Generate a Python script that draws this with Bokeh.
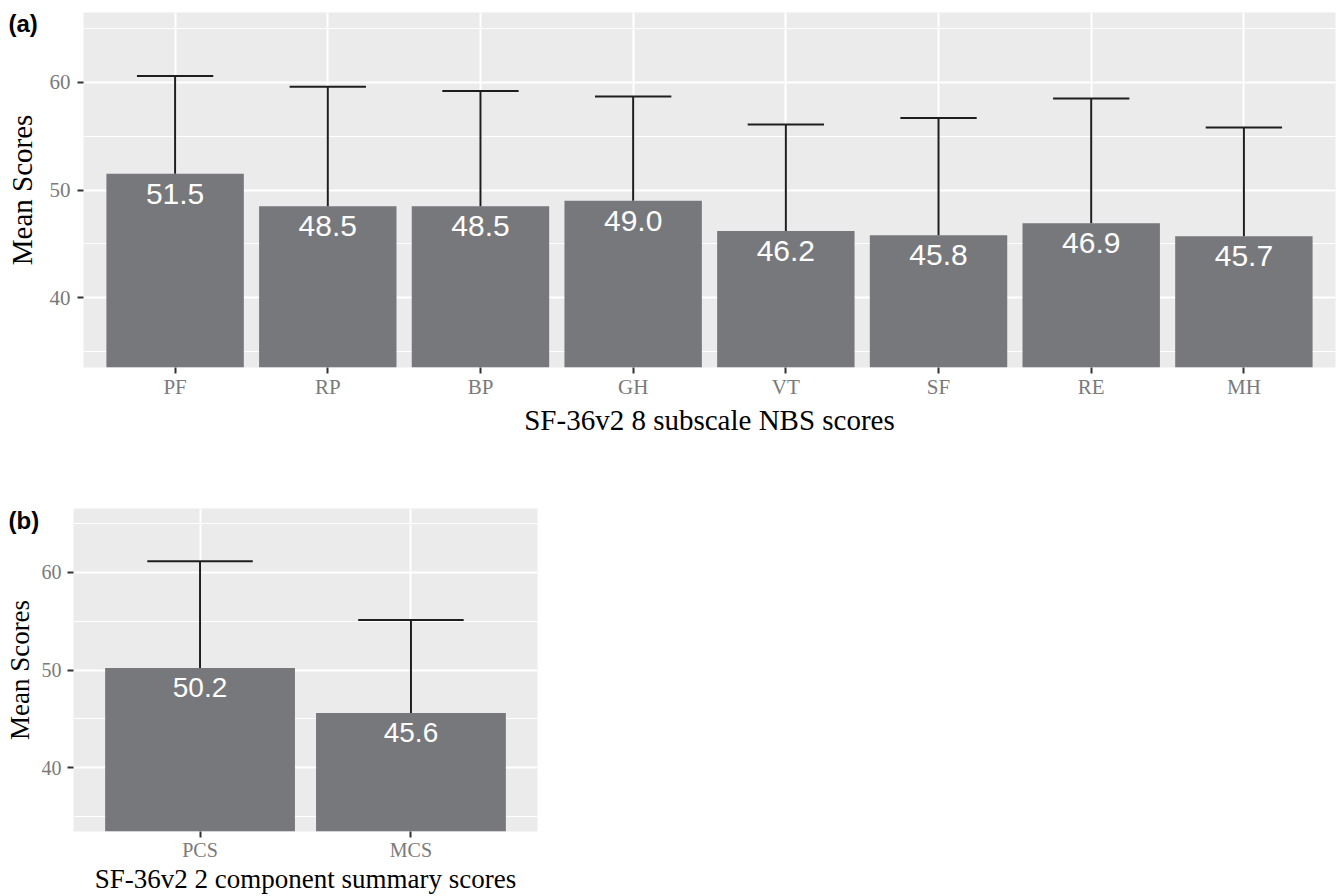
from bokeh.plotting import figure
from bokeh.models import FactorRange, FixedTicker, ColumnDataSource, Range1d
from bokeh.transform import dodge
from bokeh.layouts import column
from bokeh.core.properties import value
from bokeh.embed import file_html
from bokeh.resources import INLINE

# ---- data ----
sub_cats = ["PF", "RP", "BP", "GH", "VT", "SF", "RE", "MH"]
sub_means = [51.5, 48.5, 48.5, 49.0, 46.2, 45.8, 46.9, 45.7]
sub_upper = [60.6, 59.6, 59.2, 58.7, 56.1, 56.7, 58.5, 55.8]

comp_cats = ["PCS", "MCS"]
comp_means = [50.2, 45.6]
comp_upper = [61.1, 55.1]

y_ticks = [40, 50, 60]
y_minor = [35, 45, 55, 65]
y_lim = (33.5, 66.5)

BAR = "#77787c"
PANEL_BG = "#ebebeb"
TICK_TXT = "#7a7a7a"
SERIF = "Liberation Serif"
SANS = "Liberation Sans"


def make_panel(cats, means, upper, xlabel, tag, width, height, borders,
               title_size, tick_size, bar_label_size, label_dy, tag_offset,
               tag_standoff, x_title_standoff, y_label_standoff, y_title_standoff):
    src = ColumnDataSource(dict(cat=cats, mean=means, upper=upper,
                                label=[f"{m:.1f}" for m in means]))
    xr = FactorRange(factors=cats, range_padding=0.1, range_padding_units="absolute")
    p = figure(x_range=xr, y_range=Range1d(*y_lim), width=width, height=height,
               output_backend="svg", toolbar_location=None,
               background_fill_color=PANEL_BG, border_fill_color="white",
               min_border_left=borders[0], min_border_right=borders[1],
               min_border_top=borders[2], min_border_bottom=borders[3])
    p.outline_line_color = None

    # panel tag, e.g. "(a)"
    p.title.text = tag
    p.title.align = "left"
    p.title.offset = tag_offset
    p.title.standoff = tag_standoff
    p.title.text_font = SANS
    p.title.text_font_style = "bold"
    p.title.text_font_size = "24px"
    p.title.text_color = "black"

    p.vbar(x="cat", top="mean", bottom=0, width=0.9, source=src,
           fill_color=BAR, line_color=None)
    p.segment(x0="cat", y0="mean", x1="cat", y1="upper", source=src,
              line_color="#1e1e1e", line_width=2)
    p.segment(x0=dodge("cat", -0.25, range=xr), y0="upper",
              x1=dodge("cat", 0.25, range=xr), y1="upper", source=src,
              line_color="#1e1e1e", line_width=2)
    p.text(x="cat", y="mean", text="label", source=src, text_align="center",
           text_baseline="middle", y_offset=label_dy, text_color="white",
           text_font=value(SANS), text_font_size=bar_label_size)

    p.yaxis.ticker = FixedTicker(ticks=y_ticks, minor_ticks=y_minor)
    p.ygrid.grid_line_color = "white"
    p.ygrid.grid_line_width = 2
    p.ygrid.minor_grid_line_color = "white"
    p.ygrid.minor_grid_line_width = 1
    p.xgrid.grid_line_color = "white"
    p.xgrid.grid_line_width = 2

    for ax in (p.xaxis[0], p.yaxis[0]):
        ax.axis_line_color = None
        ax.major_tick_line_color = "#333333"
        ax.major_tick_line_width = 2
        ax.major_tick_out = 6
        ax.major_tick_in = 0
        ax.minor_tick_line_color = None
        ax.major_label_text_font = SERIF
        ax.major_label_text_font_size = tick_size
        ax.major_label_text_color = TICK_TXT
        ax.axis_label_text_font = SERIF
        ax.axis_label_text_font_style = "normal"
        ax.axis_label_text_font_size = title_size
        ax.axis_label_text_color = "black"
    p.xaxis.major_label_standoff = 1
    p.xaxis.axis_label_standoff = x_title_standoff
    p.yaxis.major_label_standoff = y_label_standoff
    p.yaxis.axis_label_standoff = y_title_standoff
    p.xaxis.axis_label = xlabel
    p.yaxis.axis_label = "Mean Scores"
    return p


p1 = make_panel(sub_cats, sub_means, sub_upper, "SF-36v2 8 subscale NBS scores", "(a)",
                width=1338, height=440, borders=(83, 0, 12, 73),
                title_size="29px", tick_size="21px", bar_label_size="30px", label_dy=20,
                tag_offset=-75, tag_standoff=-49, x_title_standoff=2,
                y_label_standoff=7, y_title_standoff=9)
p2 = make_panel(comp_cats, comp_means, comp_upper, "SF-36v2 2 component summary scores", "(b)",
                width=550, height=456, borders=(83, 3, 68, 60),
                title_size="27px", tick_size="20px", bar_label_size="28px", label_dy=19,
                tag_offset=-65, tag_standoff=-51, x_title_standoff=0,
                y_label_standoff=6, y_title_standoff=4)
# column() aligns the plot frames; pull panel (b) left so its frame starts where the reference's does
p2.margin = (0, 0, 0, -10)

layout = column(p1, p2)
open("out.html", "w").write(file_html(layout, INLINE))
